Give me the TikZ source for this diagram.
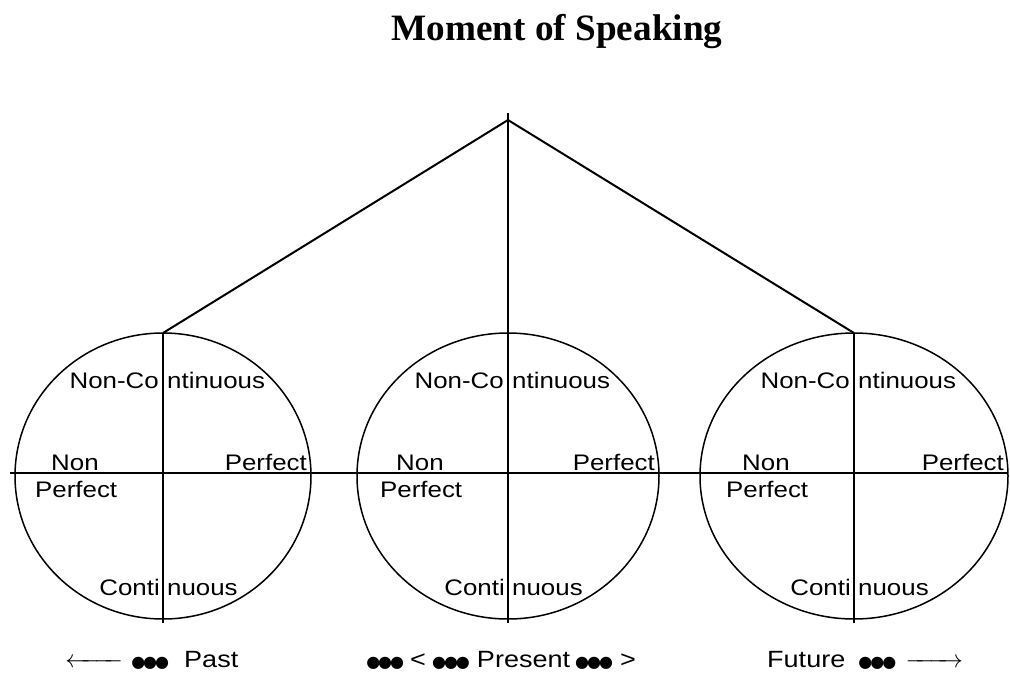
\documentclass[tikz,border=0pt]{standalone}
\usepackage{fontspec}
\usepackage{amsmath}
\setmainfont{Liberation Serif}
\newfontfamily\labelfont[FakeStretch=1.15]{Liberation Sans}
\newfontfamily\dotfont{DejaVu Sans}
\newcommand{\tridots}{\makebox[34pt]{\dotfont\fontsize{16}{16}\selectfont ●\kern-2pt●\kern-2pt●}}
\newcommand{\farleft}{\makebox[52pt]{$\xleftarrow{\hspace{44pt}}$}}
\newcommand{\farright}{\makebox[52pt]{$\xrightarrow{\hspace{44pt}}$}}
\begin{document}
\begin{tikzpicture}[x=1pt,y=-1pt,
  lab/.style={font=\labelfont\fontsize{22.5}{22.5}\selectfont,inner sep=0pt},
  timelab/.style={font=\labelfont\fontsize{23.5}{23.5}\selectfont,inner sep=0pt,anchor=base west},
  rim/.style={line width=1.5pt},
  tie/.style={line width=2pt}]
  \useasboundingbox (0,0) rectangle (1010,673);
  \node[font=\bfseries\fontsize{37.2}{37.2}\selectfont,anchor=base] (title) at (557,40) {Moment of Speaking};
  % apex and the time axis
  \coordinate (apex) at (508,120);
  \coordinate (stub) at (508,113);
  \coordinate (axis-w) at (10,473);
  \coordinate (axis-e) at (1008,473);
  \draw[rim] (axis-w) -- (axis-e);
  % the three circles
  \foreach \cx/\rx/\nm in {163/148/past,508/151/pres,854/154/fut}{
    \draw[rim] (\cx,476) ellipse ({\rx} and 143);
    \coordinate (\nm-top) at (\cx,333);
    \coordinate (\nm-foot) at (\cx,623);
    \node[lab,anchor=base east] (\nm-nc1) at (\cx-4,388) {Non-Co};
    \node[lab,anchor=base west] (\nm-nc2) at (\cx+4,388) {ntinuous};
    \node[lab,anchor=base west] (\nm-non) at (\cx-112,470) {Non};
    \node[lab,anchor=base west] (\nm-np) at (\cx-128,497) {Perfect};
    \node[lab,anchor=base east] (\nm-pf) at (\cx+\rx-4,470) {Perfect};
    \node[lab,anchor=base east] (\nm-c1) at (\cx-3,595) {Conti};
    \node[lab,anchor=base west] (\nm-c2) at (\cx+4,595) {nuous};
  }
  \draw[rim] (past-top) -- (past-foot);
  \draw[rim] (fut-top) -- (fut-foot);
  \draw[rim] (stub) -- (pres-foot);
  \draw[tie] (past-top) -- (apex) -- (fut-top);
  % time labels
  \node[timelab] (past) at (68,667) {\farleft\hspace{13pt}\tridots\hspace{17pt}Past};
  \node[timelab] (present) at (368,667) {\tridots\hspace{8pt}<\hspace{8pt}\tridots\hspace{9pt}Present\hspace{7pt}\tridots\hspace{9pt}>};
  \node[timelab] (future) at (767,667) {Future\hspace{15pt}\tridots\hspace{14pt}\farright};
\end{tikzpicture}
\end{document}
